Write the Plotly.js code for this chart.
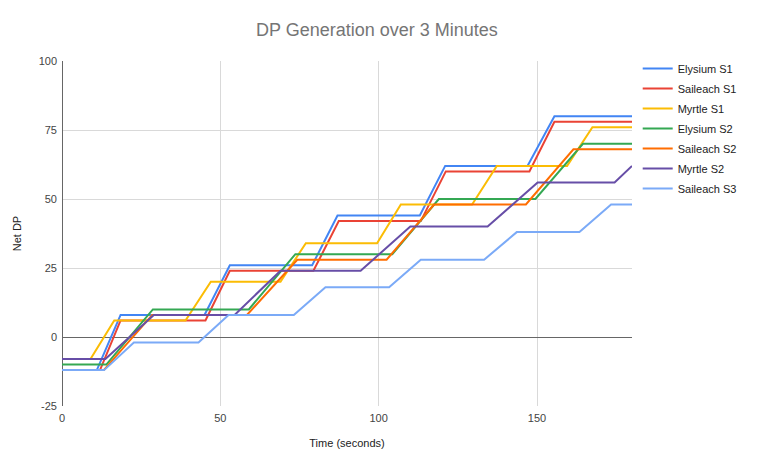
<!DOCTYPE html>
<html>
<head>
<meta charset="utf-8">
<script src="https://cdn.plot.ly/plotly-3.0.1.min.js"></script>
<style>html,body{margin:0;padding:0;background:#fff}#chart{width:757px;height:459px}</style>
</head>
<body>
<div id="chart"></div>
<script>
var seriesNames = ["Elysium S1", "Saileach S1", "Myrtle S1", "Elysium S2", "Saileach S2", "Myrtle S2", "Saileach S3"];

var elysiumS1Time = [0, 11, 18.5, 45, 53, 79, 87, 113, 121, 147, 155.5, 180];
var elysiumS1DP   = [-12, -12, 8, 8, 26, 26, 44, 44, 62, 62, 80, 80];

var saileachS1Time = [0, 12, 18.5, 45.3, 53, 79.4, 87.4, 113.3, 121.2, 147.6, 155.5, 180];
var saileachS1DP   = [-12, -12, 6, 6, 24, 24, 42, 42, 60, 60, 78, 78];

var myrtleS1Time = [0, 9, 16.5, 39, 47, 69, 77, 99.5, 107, 129.5, 137.3, 159.5, 167.5, 180];
var myrtleS1DP   = [-8, -8, 6, 6, 20, 20, 34, 34, 48, 48, 62, 62, 76, 76];

var elysiumS2Time = [0, 14, 28.7, 59, 73.7, 104.3, 119, 149.5, 164.5, 180];
var elysiumS2DP   = [-10, -10, 10, 10, 30, 30, 50, 50, 70, 70];

var saileachS2Time = [0, 13.2, 28.5, 58.4, 74.3, 102.5, 117.5, 146.5, 161.5, 180];
var saileachS2DP   = [-12, -12, 8, 8, 28, 28, 48, 48, 68, 68];

var myrtleS2Time = [0, 13.7, 29, 54.5, 69, 94.3, 110, 134.4, 150.2, 174.5, 180];
var myrtleS2DP   = [-8, -8, 8, 8, 24, 24, 40, 40, 56, 56, 62];

var saileachS3Time = [0, 13.3, 22.7, 43.1, 52.6, 73.2, 83.2, 103.3, 113.3, 133.3, 143.6, 163.4, 173.4, 180];
var saileachS3DP   = [-12, -12, -2, -2, 8, 8, 18, 18, 28, 28, 38, 38, 48, 48];

var yTicks = [-25, 0, 25, 50, 75, 100];
var xTicks = [0, 50, 100, 150];

var colors = ["#4285F4", "#EA4335", "#FBBC04", "#34A853", "#FF6D01", "#674EA7", "#7BAAF7"];
var xs = [elysiumS1Time, saileachS1Time, myrtleS1Time, elysiumS2Time, saileachS2Time, myrtleS2Time, saileachS3Time];
var ys = [elysiumS1DP, saileachS1DP, myrtleS1DP, elysiumS2DP, saileachS2DP, myrtleS2DP, saileachS3DP];

var data = seriesNames.map(function (n, i) {
  return {
    type: "scatter", mode: "lines", name: n, legendgroup: "g" + i,
    x: xs[i], y: ys[i],
    line: {color: colors[i], width: 2},
    hoverinfo: "x+y+name"
  };
});

var font = "'Liberation Sans', Arial, sans-serif";
var layout = {
  width: 757, height: 459,
  margin: {l: 62, r: 125, t: 61, b: 53},
  paper_bgcolor: "#fff", plot_bgcolor: "#fff",
  font: {family: font, size: 11, color: "#444"},
  title: {text: "DP Generation over 3 Minutes", font: {family: font, size: 18, color: "#757575"},
          x: 0.498, xref: "container", y: 0.935, yref: "container", xanchor: "center", yanchor: "middle"},
  xaxis: {
    range: [0, 180], tickvals: xTicks, ticktext: xTicks.map(String),
    showgrid: true, gridcolor: "#D9D9D9", gridwidth: 1,
    zeroline: true, zerolinecolor: "#666", zerolinewidth: 1,
    showline: false, ticks: "", ticklabelstandoff: 4, tickfont: {size: 11, color: "#444"},
    title: {text: "Time (seconds)", font: {size: 11, color: "#222"}, standoff: 16},
    fixedrange: true
  },
  yaxis: {
    range: [-25, 100], tickvals: yTicks, ticktext: yTicks.map(String),
    showgrid: true, gridcolor: "#D9D9D9", gridwidth: 1,
    zeroline: true, zerolinecolor: "#666", zerolinewidth: 1,
    showline: false, ticks: "", ticklabelstandoff: 4, tickfont: {size: 11, color: "#444"},
    title: {text: "Net DP", font: {size: 11, color: "#222"}, standoff: 14},
    fixedrange: true
  },
  showlegend: true,
  legend: {
    x: 1.01, xanchor: "left", y: 1.02, yanchor: "top",
    font: {family: font, size: 11, color: "#222"},
    bgcolor: "rgba(0,0,0,0)", itemwidth: 30, tracegroupgap: 1
  }
};

Plotly.newPlot("chart", data, layout, {displayModeBar: false, staticPlot: true});
</script>
</body>
</html>
